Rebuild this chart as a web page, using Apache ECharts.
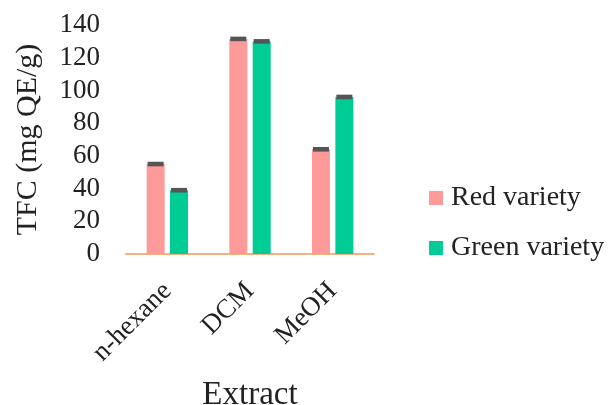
<!DOCTYPE html>
<html><head><meta charset="utf-8">
<script src="https://cdn.jsdelivr.net/npm/echarts@6/dist/echarts.min.js"></script>
<style>html,body{margin:0;padding:0;background:#fff}#c{width:611px;height:405px}</style>
</head><body><div id="c"></div>
<script>
var categories = ['n-hexane', 'DCM', 'MeOH'];
var seriesNames = ['Red variety', 'Green variety'];
var redValues = [55, 131.5, 64];
var greenValues = [39, 130, 96];
var redErrors = [1.4, 1.4, 1.4];
var greenErrors = [1.4, 1.4, 1.4];
var yTicks = {min: 0, max: 140, interval: 20};

var FONT = '"Liberation Serif", "Times New Roman", serif';
var BAR_W = 18, GAP = 0.3;
var colors = ['#FF9A9A', '#00CC96'];

function errSeries(vals, errs, idx) {
  var data = vals.map(function (v, i) { return [i, v, errs[i]]; });
  return {
    type: 'custom', silent: true, z: 5,
    data: data,
    renderItem: function (params, api) {
      var c = api.value(0), v = api.value(1), e = api.value(2);
      var top = api.coord([c, v + e]);
      var bot = api.coord([c, v - e]);
      var off = (BAR_W + BAR_W * GAP) / 2 * (idx === 0 ? -1 : 1);
      var w = BAR_W - 2;
      return {
        type: 'rect',
        shape: {x: top[0] + off - w / 2, y: top[1], width: w, height: Math.max(2, bot[1] - top[1])},
        style: {fill: '#555555'}
      };
    }
  };
}

var chart = echarts.init(document.getElementById('c'));
chart.setOption({
  animation: false,
  textStyle: {fontFamily: FONT},
  grid: {left: 126, right: 237, top: 25, bottom: 151, containLabel: false, outerBoundsMode: 'none'},
  legend: {
    orient: 'vertical', left: 424, top: 179,
    itemWidth: 14, itemHeight: 14, itemGap: 22,
    textStyle: {fontFamily: FONT, fontSize: 28, color: '#222', padding: [0, 0, 0, 3]},
    data: [{name: seriesNames[0], icon: 'rect'}, {name: seriesNames[1], icon: 'rect'}]
  },
  xAxis: {
    type: 'category', data: categories,
    name: 'Extract', nameLocation: 'middle', nameGap: 125,
    nameTextStyle: {fontFamily: FONT, fontSize: 33, color: '#222'},
    axisLine: {lineStyle: {color: '#F4B183', width: 2}},
    axisTick: {show: false},
    axisLabel: {rotate: 45, fontFamily: FONT, fontSize: 27, color: '#222', margin: 33, interval: 0}
  },
  yAxis: {
    type: 'value', min: yTicks.min, max: yTicks.max, interval: yTicks.interval,
    name: 'TFC (mg QE/g)', nameLocation: 'middle', nameGap: 83,
    nameTextStyle: {fontFamily: FONT, fontSize: 30, color: '#222'},
    axisLine: {show: false}, axisTick: {show: false},
    splitLine: {show: false},
    axisLabel: {fontFamily: FONT, fontSize: 27, color: '#222', margin: 26}
  },
  series: [
    {name: seriesNames[0], type: 'bar', data: redValues, barWidth: BAR_W, barGap: (GAP * 100) + '%', itemStyle: {color: colors[0]}},
    {name: seriesNames[1], type: 'bar', data: greenValues, barWidth: BAR_W, barGap: (GAP * 100) + '%', itemStyle: {color: colors[1]}},
    errSeries(redValues, redErrors, 0),
    errSeries(greenValues, greenErrors, 1)
  ]
});
</script></body></html>
